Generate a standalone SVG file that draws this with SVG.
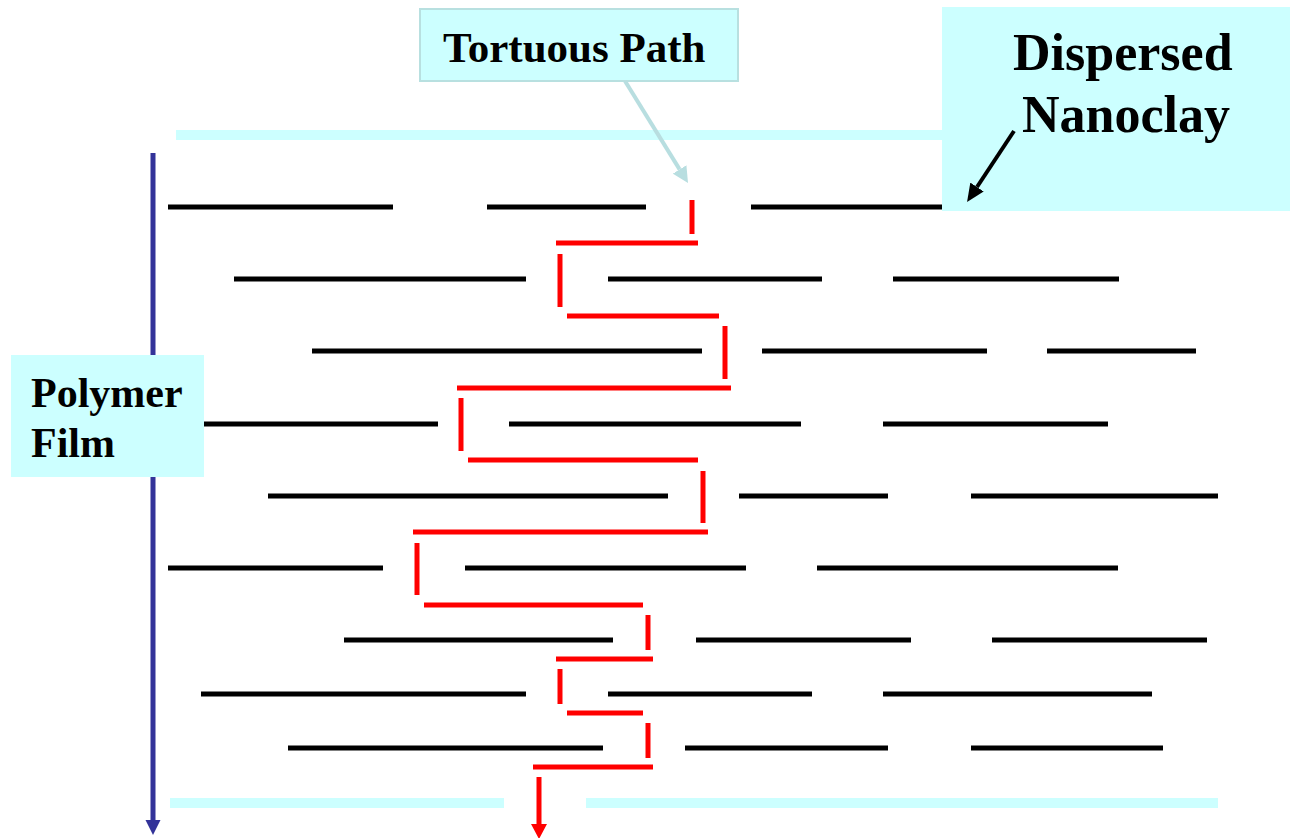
<svg xmlns="http://www.w3.org/2000/svg" width="1290" height="838" viewBox="0 0 1290 838">
  <style>
    .film { stroke: #CCFFFF; stroke-width: 10; fill: none; }
    .clay { stroke: #000; stroke-width: 5; fill: none; }
    .path { stroke: #FF0000; stroke-width: 5; fill: none; }
    .box { fill: #CCFFFF; }
    .lbl { font-family: "Liberation Serif", "Times New Roman", serif; font-weight: bold; fill: #000; }
  </style>
  <defs>
    <!-- heads start where the shaft ends -->
    <marker id="ahBlue" markerUnits="userSpaceOnUse" markerWidth="16" markerHeight="16" refX="0" refY="8" orient="auto">
      <path d="M0,0.5 L15,8 L0,15.5 Z" fill="#333399"/>
    </marker>
    <marker id="ahRed" markerUnits="userSpaceOnUse" markerWidth="16" markerHeight="17" refX="0" refY="8.5" orient="auto">
      <path d="M0,0.5 L15,8.5 L0,16.5 Z" fill="#FF0000"/>
    </marker>
    <marker id="ahBlack" markerUnits="userSpaceOnUse" markerWidth="19" markerHeight="17" refX="0" refY="8.5" orient="auto">
      <path d="M0,0.5 L18,8.5 L0,16.5 Z" fill="#000"/>
    </marker>
    <marker id="ahTeal" markerUnits="userSpaceOnUse" markerWidth="17" markerHeight="17" refX="0" refY="8.5" orient="auto">
      <path d="M0,0.5 L16,8.5 L0,16.5 Z" fill="#B8DEE0"/>
    </marker>
  </defs>

  <!-- film surfaces -->
  <g id="film-surfaces">
    <line class="film" x1="176" y1="135" x2="945" y2="135"/>
    <line class="film" x1="170" y1="803" x2="504" y2="803"/>
    <line class="film" x1="586" y1="803" x2="1218" y2="803"/>
  </g>

  <!-- clay platelets -->
  <g id="platelets">
    <line class="clay" x1="168" y1="207" x2="393" y2="207"/>
    <line class="clay" x1="487" y1="207" x2="646" y2="207"/>
    <line class="clay" x1="751" y1="207" x2="945" y2="207"/>

    <line class="clay" x1="234" y1="279" x2="526" y2="279"/>
    <line class="clay" x1="608" y1="279" x2="822" y2="279"/>
    <line class="clay" x1="893" y1="279" x2="1119" y2="279"/>

    <line class="clay" x1="312" y1="351" x2="702" y2="351"/>
    <line class="clay" x1="762" y1="351" x2="987" y2="351"/>
    <line class="clay" x1="1047" y1="351" x2="1196" y2="351"/>

    <line class="clay" x1="204" y1="424" x2="438" y2="424"/>
    <line class="clay" x1="509" y1="424" x2="801" y2="424"/>
    <line class="clay" x1="883" y1="424" x2="1108" y2="424"/>

    <line class="clay" x1="268" y1="496" x2="668" y2="496"/>
    <line class="clay" x1="739" y1="496" x2="888" y2="496"/>
    <line class="clay" x1="971" y1="496" x2="1218" y2="496"/>

    <line class="clay" x1="168" y1="568" x2="383" y2="568"/>
    <line class="clay" x1="465" y1="568" x2="746" y2="568"/>
    <line class="clay" x1="817" y1="568" x2="1118" y2="568"/>

    <line class="clay" x1="344" y1="640" x2="613" y2="640"/>
    <line class="clay" x1="696" y1="640" x2="911" y2="640"/>
    <line class="clay" x1="992" y1="640" x2="1207" y2="640"/>

    <line class="clay" x1="201" y1="694" x2="526" y2="694"/>
    <line class="clay" x1="608" y1="694" x2="812" y2="694"/>
    <line class="clay" x1="883" y1="694" x2="1152" y2="694"/>

    <line class="clay" x1="288" y1="748" x2="603" y2="748"/>
    <line class="clay" x1="685" y1="748" x2="888" y2="748"/>
    <line class="clay" x1="971" y1="748" x2="1163" y2="748"/>
  </g>

  <g id="tortuous-path">
    <rect class="box" x="420" y="9" width="318" height="72" stroke="#B8E0E0" stroke-width="2"/>
    <text class="lbl" x="443" y="62" font-size="43">Tortuous Path</text>
  </g>

  <g id="dispersed-nanoclay">
    <rect class="box" x="942" y="7" width="348" height="204"/>
    <text class="lbl" x="1013" y="70" font-size="52">Dispersed</text>
    <text class="lbl" x="1022" y="132" font-size="52">Nanoclay</text>
  </g>

  <g id="polymer-film">
    <rect class="box" x="11" y="355" width="193" height="122"/>
    <text class="lbl" x="31" y="407" font-size="42">Polymer</text>
    <text class="lbl" x="31" y="457" font-size="42">Film</text>
  </g>

  <!-- connectors -->
  <g id="connectors">
    <!-- diffusion path segments -->
    <line class="path" x1="692" y1="200" x2="692" y2="234"/>
    <line class="path" x1="556" y1="243" x2="698" y2="243"/>
    <line class="path" x1="560" y1="254" x2="560" y2="307"/>
    <line class="path" x1="567" y1="316" x2="719" y2="316"/>
    <line class="path" x1="725" y1="326" x2="725" y2="379"/>
    <line class="path" x1="457" y1="388" x2="731" y2="388"/>
    <line class="path" x1="461" y1="398" x2="461" y2="451"/>
    <line class="path" x1="468" y1="460" x2="698" y2="460"/>
    <line class="path" x1="703" y1="471" x2="703" y2="523"/>
    <line class="path" x1="413" y1="532" x2="708" y2="532"/>
    <line class="path" x1="417" y1="543" x2="417" y2="595"/>
    <line class="path" x1="424" y1="605" x2="643" y2="605"/>
    <line class="path" x1="648" y1="615" x2="648" y2="650"/>
    <line class="path" x1="556" y1="659" x2="653" y2="659"/>
    <line class="path" x1="560" y1="669" x2="560" y2="704"/>
    <line class="path" x1="567" y1="713" x2="643" y2="713"/>
    <line class="path" x1="648" y1="723" x2="648" y2="758"/>
    <line class="path" x1="533" y1="767" x2="653" y2="767"/>
    <line class="path" x1="539" y1="777" x2="539" y2="824" marker-end="url(#ahRed)"/>

    <!-- film thickness arrow (passes behind the Polymer Film label) -->
    <path d="M153,153 V355 M153,477 V820" stroke="#333399" stroke-width="5" fill="none" marker-end="url(#ahBlue)"/>

    <!-- label pointers -->
    <line x1="625" y1="81" x2="679.6" y2="169.4" stroke="#B8DEE0" stroke-width="4" marker-end="url(#ahTeal)"/>
    <line x1="1014" y1="131" x2="977" y2="187" stroke="#000" stroke-width="4" marker-end="url(#ahBlack)"/>
  </g>
</svg>
